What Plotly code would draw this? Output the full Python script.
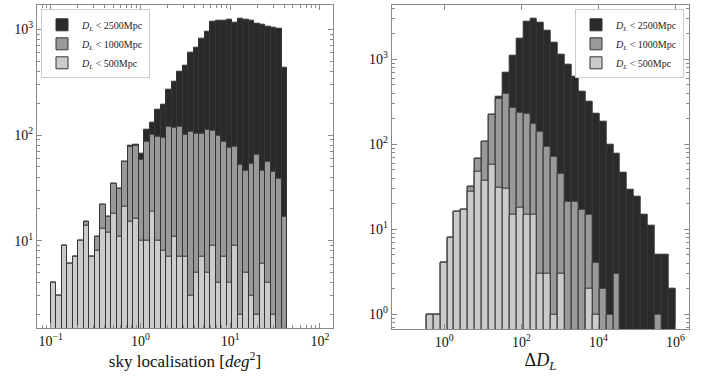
import numpy as np
import plotly.graph_objects as go

# ---------------- data ----------------
# left panel: sky localisation histogram, 49 log bins 1e-1 .. 1e2
sky_bins = np.logspace(-1, 2, 50)
sky_2500 = [4, 3, 9, 6, 7, 10, 15, 7, 11, 22, 17, 35, 31, 56, 79, 81, 67, 112, 130, 173,
            195, 268, 318, 395, 448, 604, 675, 809, 944, 1192, 1209, 1218, 1245, 1157, 1254, 1245, 1209, 1124, 1099, 1060,
            1037, 1022, 434, 0, 0, 0, 0, 0, 0]
sky_1000 = [4, 3, 9, 6, 7, 10, 15, 7, 11, 22, 17, 35, 31, 56, 77, 80, 58, 86, 101, 96,
            94, 120, 117, 120, 100, 108, 104, 104, 113, 111, 98, 86, 76, 77, 52, 46, 54, 65, 46, 56,
            45, 39, 17, 0, 0, 0, 0, 0, 0]
sky_500 = [4, 3, 9, 6, 7, 10, 14, 7, 8, 13, 12, 18, 11, 21, 15, 16, 10, 10, 19, 10,
           8, 7, 11, 7, 7, 3, 5, 7, 5, 9, 4, 7, 4, 9, 2, 5, 3, 2, 6, 4,
           2, 1, 0, 0, 0, 0, 0, 0, 0]

# right panel: Delta D_L histogram, 39 log bins 1e-1 .. 1e6
dl_bins = np.logspace(-1, 6, 40)
dl_2500 = [0, 0, 0, 1, 1, 4, 8, 16, 17, 32, 67, 106, 221, 360, 697, 1094, 1766, 2775, 2985, 2700,
           2172, 1572, 1146, 858, 626, 417, 318, 228, 185, 100, 77, 46, 29, 24, 15, 11, 5, 5, 2]
dl_1000 = [0, 0, 0, 1, 1, 4, 8, 16, 17, 32, 67, 106, 221, 341, 398, 270, 236, 230, 177, 141,
           94, 72, 45, 21, 21, 17, 15, 4, 2, 1, 3, 0, 0, 0, 0, 0, 1, 0, 0]
dl_500 = [0, 0, 0, 1, 1, 4, 8, 16, 17, 28, 47, 37, 58, 31, 30, 15, 18, 15, 15, 3,
          3, 1, 3, 0, 0, 0, 2, 1, 0, 0, 0, 0, 0, 0, 0, 0, 0, 0, 0]

labels = ["<i>D</i><sub><i>L</i></sub> &lt; 2500Mpc",
          "<i>D</i><sub><i>L</i></sub> &lt; 1000Mpc",
          "<i>D</i><sub><i>L</i></sub> &lt; 500Mpc"]
colors = ["#2a2a2a", "#999999", "#cbcbcb"]

FONT = "Liberation Serif"
W, H = 710, 376


def bars(edges, vals):
    e = np.asarray(edges)
    centers = (e[:-1] + e[1:]) / 2
    widths = np.diff(e)
    y = [v if v > 0 else None for v in vals]
    return centers, widths, y


fig = go.Figure()
for vals, lab, col in zip([sky_2500, sky_1000, sky_500], labels, colors):
    cx, w, y = bars(sky_bins, vals)
    fig.add_trace(go.Bar(x=cx, y=y, width=w, name=lab, xaxis="x", yaxis="y",
                         legend="legend",
                         marker=dict(color=col, line=dict(color="#353535", width=1))))
for vals, lab, col in zip([dl_2500, dl_1000, dl_500], labels, colors):
    cx, w, y = bars(dl_bins, vals)
    fig.add_trace(go.Bar(x=cx, y=y, width=w, name=lab, xaxis="x2", yaxis="y2",
                         legend="legend2",
                         marker=dict(color=col, line=dict(color="#353535", width=1))))


def minors(lo, hi):
    return [k * 10.0 ** n for n in range(lo, hi) for k in range(2, 10)]


def sup(n):
    s = str(n).replace("-", "\u2212")
    return "10<sup>%s</sup>" % s


axis_common = dict(type="log", showgrid=False, zeroline=False, showline=True,
                   linecolor="#8a8a8a", linewidth=1, mirror="allticks",
                   ticks="inside", ticklen=5, tickcolor="#8a8a8a", tickwidth=1,
                   tickfont=dict(family=FONT, size=14, color="#111"))

xl = [37 / W, 333 / W]
xr = [391.7 / W, 689 / W]
yl = [1 - 328 / H, 1 - 4.7 / H]
yr = [1 - 329 / H, 1 - 4.7 / H]

leg_common = dict(bgcolor="white", bordercolor="#cccccc", borderwidth=1,
                  font=dict(family=FONT, size=10, color="#222"),
                  tracegroupgap=0, itemwidth=30)

fig.update_layout(
    width=W, height=H, margin=dict(l=0, r=0, t=0, b=0),
    paper_bgcolor="white", plot_bgcolor="white",
    barmode="overlay", bargap=0,
    xaxis=dict(axis_common, domain=xl, anchor="y", range=[-1.153, 2.145],
               tickvals=[0.1, 1, 10, 100], ticktext=[sup(-1), sup(0), sup(1), sup(2)],
               minor=dict(ticks="inside", ticklen=3, tickcolor="#8a8a8a",
                          tickvals=minors(-2, 3), showgrid=False),
               title=dict(text="sky localisation [<i>deg</i><sup>2</sup>]",
                          font=dict(family=FONT, size=17, color="#111"), standoff=4)),
    yaxis=dict(axis_common, domain=yl, anchor="x", range=[0.174, 3.233],
               tickvals=[10, 100, 1000], ticktext=[sup(1), sup(2), sup(3)],
               minor=dict(ticks="inside", ticklen=3, tickcolor="#8a8a8a",
                          tickvals=minors(0, 4), showgrid=False)),
    xaxis2=dict(axis_common, domain=xr, anchor="y2", range=[-1.364, 6.35],
                tickvals=[1, 100, 1e4, 1e6], ticktext=[sup(0), sup(2), sup(4), sup(6)],
                title=dict(text="\u0394<i>D</i><sub><i>L</i></sub>",
                           font=dict(family=FONT, size=18, color="#111"), standoff=4)),
    yaxis2=dict(axis_common, domain=yr, anchor="x2", range=[-0.173, 3.642],
                tickvals=[1, 10, 100, 1000], ticktext=[sup(0), sup(1), sup(2), sup(3)],
                minor=dict(ticks="inside", ticklen=3, tickcolor="#8a8a8a",
                           tickvals=minors(-1, 4), showgrid=False)),
    legend=dict(leg_common, x=41 / W, y=1 - 9.3 / H, xanchor="left", yanchor="top"),
    legend2=dict(leg_common, x=684 / W, y=1 - 9.3 / H, xanchor="right", yanchor="top"),
    showlegend=True,
)

fig.write_html("out.html")
